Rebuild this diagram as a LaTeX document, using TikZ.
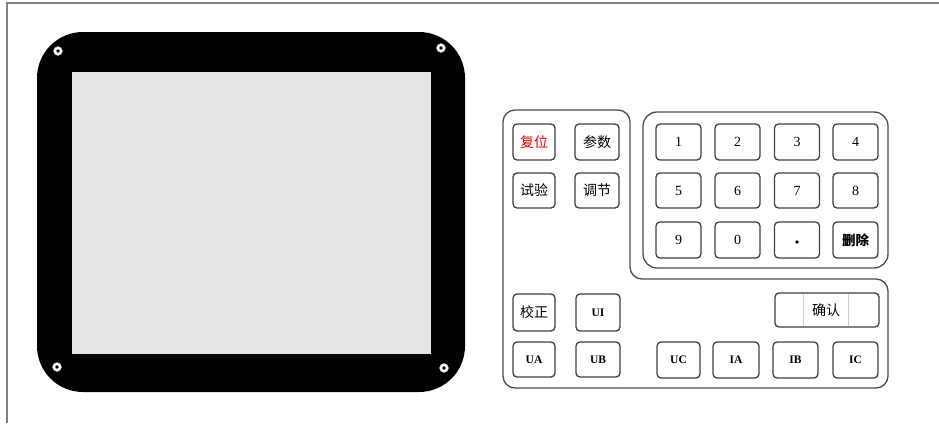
\documentclass[tikz,border=0pt]{standalone}
\usepackage{fontspec}
\setmainfont{Liberation Serif}
\newfontfamily\cjk{Noto Sans CJK SC}
\begin{document}
\begin{tikzpicture}[x=1pt,y=-1pt,
  keybox/.style={draw=black!75,line width=1.3pt,rounded corners=4pt,fill=white,inner sep=0pt,minimum width=44pt,minimum height=36pt},
  cn/.style={font=\cjk\fontsize{14}{15}\selectfont},
  num/.style={font=\fontsize{14}{15}\selectfont},
  lat/.style={font=\bfseries\fontsize{11.5}{12}\selectfont},
  panel/.style={draw=black!70,line width=1.3pt},
  screw/.style={circle,fill=white,draw=black!30,line width=0.4pt,minimum size=9pt,inner sep=0pt}]
\useasboundingbox (0,0) rectangle (939,423);
% frame
\draw[black!50,line width=2pt] (939,3) -- (7,3) -- (7,423);
% screen
\fill[black,rounded corners=46pt] (37,32) rectangle (465,392);
\fill[black!10] (72,72) rectangle (431,354);
\foreach \n/\p in {s1/{(58,51)},s2/{(441,48)},s3/{(57,367)},s4/{(444,368)}}{
  \node[screw] (\n) at \p {};
  \fill[black] (\n) circle (1.8pt);
}
% panel outline
\draw[panel,rounded corners=12pt] (503,110) -- (630,110) -- (630,279) -- (888,279) -- (888,388) -- (503,388) -- cycle;
\draw[panel,rounded corners=14pt] (643,112) rectangle (888,268);
% left group
\node[keybox,cn,text=red!85!black,minimum width=42pt] (fuwei) at (534,142) {复位};
\node[keybox,cn] (canshu) at (597,142) {参数};
\node[keybox,cn,minimum width=42pt,minimum height=35pt] (shiyan) at (534,190.5) {试验};
\node[keybox,cn,minimum height=35pt] (tiaojie) at (597,190.5) {调节};
% keypad
\node[keybox,num,minimum width=45pt] (k1) at (678.5,142) {1};
\node[keybox,num,minimum width=45pt] (k2) at (737.5,142) {2};
\node[keybox,num,minimum width=45pt] (k3) at (797,142) {3};
\node[keybox,num,minimum width=45pt] (k4) at (855.5,142) {4};
\node[keybox,num,minimum width=45pt,minimum height=35pt] (k5) at (678.5,190.5) {5};
\node[keybox,num,minimum width=45pt,minimum height=35pt] (k6) at (737.5,190.5) {6};
\node[keybox,num,minimum width=45pt,minimum height=35pt] (k7) at (797,190.5) {7};
\node[keybox,num,minimum width=45pt,minimum height=35pt] (k8) at (855.5,190.5) {8};
\node[keybox,num,minimum width=45pt] (k9) at (678.5,240) {9};
\node[keybox,num,minimum width=45pt] (k0) at (737.5,240) {0};
\node[keybox,minimum width=45pt] (kdot) at (797,240) {};
\fill[black] (kdot.center) ++(0,2) circle (1.8pt);
\node[keybox,cn,minimum width=45pt,font=\cjk\bfseries\fontsize{13.5}{14}\selectfont] (kdel) at (855.5,240) {删除};
% bottom group
\node[keybox,cn,minimum width=42pt,minimum height=37pt] (jiaozheng) at (534,312.5) {校正};
\node[keybox,lat,minimum height=37pt] (ui) at (598,312.5) {UI};
\node[keybox,lat,minimum width=42pt,minimum height=35pt] (ua) at (534,359.5) {UA};
\node[keybox,lat,minimum height=35pt] (ub) at (598,359.5) {UB};
\node[keybox,lat,minimum width=43pt,minimum height=36pt] (uc) at (678.5,360) {UC};
\node[keybox,lat,minimum width=46pt,minimum height=36pt] (ia) at (736,360) {IA};
\node[keybox,lat,minimum width=45pt,minimum height=36pt] (ib) at (795.5,360) {IB};
\node[keybox,lat,minimum width=45pt,minimum height=36pt] (ic) at (855.5,360) {IC};
\node[keybox,minimum width=104pt,minimum height=34pt] (queren) at (827,310) {};
\draw[black!20,line width=0.8pt] (803,293.7) -- (803,326.3) (848,293.7) -- (848,326.3);
\node[cn] (qrtext) at (826,310) {确认};
\end{tikzpicture}
\end{document}
